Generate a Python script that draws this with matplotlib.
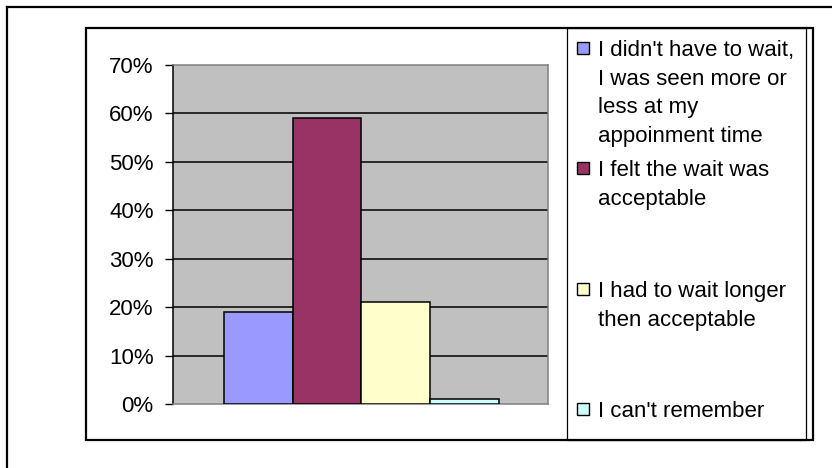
import matplotlib.pyplot as plt
from matplotlib.patches import Rectangle
from matplotlib.lines import Line2D

# chart data
labels = ["I didn't have to wait,\nI was seen more or\nless at my\nappoinment time",
          "I felt the wait was\nacceptable",
          "I had to wait longer\nthen acceptable",
          "I can't remember"]
values = [19, 59, 21, 1]
colors = ['#9999FF', '#993366', '#FFFFCC', '#CCFFFF']
yticks = [0, 10, 20, 30, 40, 50, 60, 70]

W, H = 832, 468
plt.rcParams['font.family'] = ['Liberation Sans', 'DejaVu Sans']
FS = 16


def fx(x):
    return x / W


def fy(y):
    return 1 - y / H


fig = plt.figure(figsize=(W / 100, H / 100), dpi=100)

# outer frame (continues past the image edge)
fig.add_artist(Line2D([fx(7), fx(7)], [fy(7), 0], color='black', lw=1.6))
fig.add_artist(Line2D([fx(7), 1], [fy(7), fy(7)], color='black', lw=1.6))

# chart frame and legend box
fig.add_artist(Rectangle((fx(86), fy(440)), (813 - 86) / W, (440 - 28) / H,
                         transform=fig.transFigure, fill=False, ec='black', lw=1.6))
fig.add_artist(Rectangle((fx(567), fy(440)), (806 - 567) / W, (440 - 28) / H,
                         transform=fig.transFigure, fill=False, ec='black', lw=0.9))

ax = fig.add_axes([fx(173), fy(404), (548 - 173) / W, (404 - 65) / H])
ax.set_facecolor('#C0C0C0')
for t in yticks[1:-1]:
    ax.axhline(t, color='black', lw=1.1, zorder=1)

ax.bar(range(len(values)), values, width=1, color=colors,
       edgecolor='black', linewidth=1.1, zorder=3)

ax.set_xlim(-1.24, 4.22)
ax.set_ylim(0, 70)
ax.set_xticks([])
ax.set_yticks(yticks)
ax.set_yticklabels([f"{t}%" for t in yticks], fontsize=FS)
ax.tick_params(axis='y', direction='out', length=6, width=1, pad=8)

for side in ['top', 'right', 'bottom']:
    ax.spines[side].set_color('#808080')
    ax.spines[side].set_linewidth(1.1)
ax.spines['left'].set_color('black')
ax.spines['left'].set_linewidth(1.1)

# legend drawn by hand, Excel-style spacing
first_line_y = [48, 168, 289, 409]
line_gap = 28.7
for lab, col, cy in zip(labels, colors, first_line_y):
    fig.add_artist(Rectangle((fx(577), fy(cy + 6)), 12 / W, 12 / H,
                             transform=fig.transFigure, fc=col, ec='black', lw=1))
    for j, line in enumerate(lab.split('\n')):
        fig.text(fx(598), fy(cy + 8 + j * line_gap), line, fontsize=FS, va='baseline')

fig.savefig('out.png', dpi=100)
